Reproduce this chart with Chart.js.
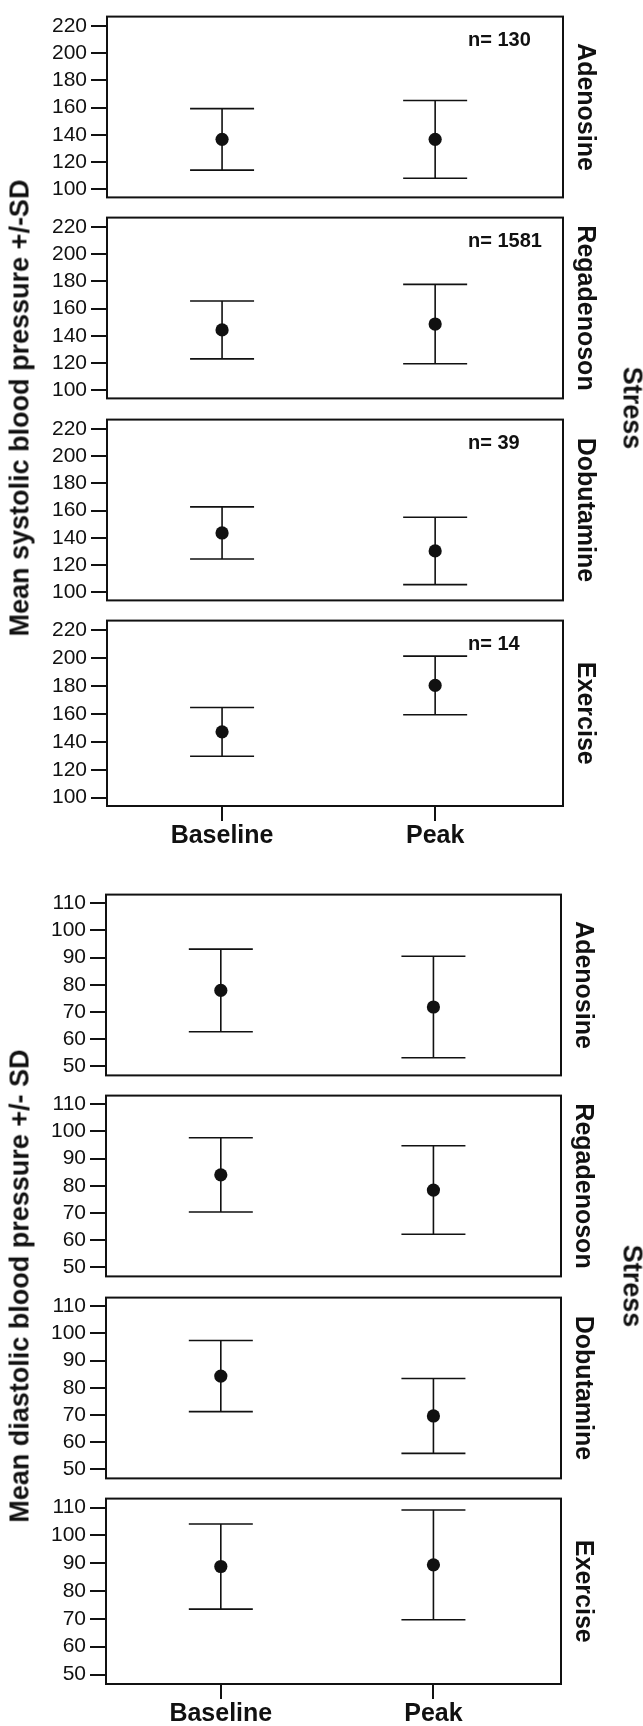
<!DOCTYPE html>
<html>
<head>
<meta charset="utf-8">
<title>Blood pressure at baseline and peak stress</title>
<script src="https://cdn.jsdelivr.net/npm/chart.js@4.4.1/dist/chart.umd.min.js"></script>
<style>
  html, body { margin: 0; padding: 0; background: #fff; }
  body { position: relative; width: 643px; height: 1726px; overflow: hidden;
         font-family: 'Liberation Sans', Arial, sans-serif; color: #111; }
  .panel { position: absolute; left: 0; width: 643px; }
  .vtitle { position: absolute; white-space: nowrap; font-weight: bold; font-size: 27px; line-height: 1; }
</style>
</head>
<body>
<script>
const categories = ['Baseline', 'Peak'];
const stressTypes = ['Adenosine', 'Regadenoson', 'Dobutamine', 'Exercise'];
const sampleSizes = [130, 1581, 39, 14];

// mean and SD per stress type, [baseline, peak]
const systolicMean = [[136.7, 136.7], [144.4, 148.7], [143.6, 130.4], [147.2, 180.5]];
const systolicSD = [[22.6, 28.6], [21.3, 29.2], [19.2, 24.8], [17.5, 21.0]];
const diastolicMean = [[77.9, 71.8], [84.0, 78.4], [84.3, 69.6], [88.8, 89.4]];
const diastolicSD = [[15.2, 18.7], [13.7, 16.3], [13.1, 13.8], [15.3, 19.7]];

const systolicTicks = [100, 120, 140, 160, 180, 200, 220];
const diastolicTicks = [50, 60, 70, 80, 90, 100, 110];

const INK = '#111';
const FONT = "'Liberation Sans', Arial, sans-serif";
const PANEL_H = 192, PANEL_STEP = 201.3;
const PAD_TOP = 10, PAD_BOTTOM = 12, AXIS_H = 52, CAP = 32;

Chart.defaults.font.family = FONT;
Chart.defaults.color = INK;

const groups = [
    { title: 'Mean systolic blood pressure +/-SD', means: systolicMean, sds: systolicSD,
      ticks: systolicTicks, yMin: 94, yMax: 227, top: 10, left: 107, right: 563, showN: true },
    { title: 'Mean diastolic blood pressure +/- SD', means: diastolicMean, sds: diastolicSD,
      ticks: diastolicTicks, yMin: 46.6, yMax: 113.2, top: 888, left: 106, right: 561, showN: false }
];

// frame, error bars, facet label and n= text
const panelDecor = {
    id: 'panelDecor',
    beforeDatasetsDraw(chart) {
        const {ctx, scales: {x, y}} = chart;
        const ds = chart.data.datasets[0];
        ctx.save();
        ctx.strokeStyle = INK;
        ctx.lineWidth = 1.6;
        ds.data.forEach((p, i) => {
            const px = x.getPixelForValue(p.x);
            const hi = y.getPixelForValue(p.y + ds.sd[i]);
            const lo = y.getPixelForValue(p.y - ds.sd[i]);
            ctx.beginPath();
            ctx.moveTo(px, hi); ctx.lineTo(px, lo);
            ctx.moveTo(px - CAP, hi); ctx.lineTo(px + CAP, hi);
            ctx.moveTo(px - CAP, lo); ctx.lineTo(px + CAP, lo);
            ctx.stroke();
        });
        ctx.restore();
    },
    afterDraw(chart, args, opts) {
        const {ctx, chartArea: a} = chart;
        ctx.save();
        ctx.strokeStyle = INK;
        ctx.lineWidth = 2;
        ctx.strokeRect(a.left, a.top, a.right - a.left, a.bottom - a.top);
        ctx.fillStyle = INK;
        if (opts.n) {
            ctx.font = 'bold 20px ' + FONT;
            ctx.textAlign = 'left';
            ctx.textBaseline = 'middle';
            ctx.fillText(opts.n, a.right - 95, a.top + 24);
        }
        ctx.font = 'bold 25px ' + FONT;
        ctx.textAlign = 'center';
        ctx.textBaseline = 'middle';
        ctx.translate(a.right + 22, (a.top + a.bottom) / 2);
        ctx.rotate(Math.PI / 2);
        ctx.fillText(opts.label, 0, 0);
        ctx.restore();
    }
};

function addTitle(text, cx, cy, deg) {
    const el = document.createElement('div');
    el.className = 'vtitle';
    el.textContent = text;
    el.style.left = cx + 'px';
    el.style.top = cy + 'px';
    el.style.transform = 'translate(-50%, -50%) rotate(' + deg + 'deg)';
    document.body.appendChild(el);
}

groups.forEach((g) => {
    stressTypes.forEach((type, si) => {
        const isLast = si === stressTypes.length - 1;
        const top = g.top + Math.round(si * PANEL_STEP);
        const div = document.createElement('div');
        div.className = 'panel';
        div.style.top = (top - PAD_TOP) + 'px';
        div.style.height = (PAD_TOP + PANEL_H + (isLast ? AXIS_H : PAD_BOTTOM)) + 'px';
        const canvas = document.createElement('canvas');
        div.appendChild(canvas);
        document.body.appendChild(div);

        new Chart(canvas, {
            type: 'scatter',
            data: {
                datasets: [{
                    data: categories.map((c, i) => ({ x: i, y: g.means[si][i] })),
                    sd: g.sds[si],
                    pointRadius: 6.6,
                    pointHoverRadius: 6.6,
                    backgroundColor: INK,
                    borderWidth: 0
                }]
            },
            options: {
                responsive: true,
                maintainAspectRatio: false,
                animation: false,
                events: [],
                layout: { padding: { top: PAD_TOP, bottom: isLast ? 0 : PAD_BOTTOM, left: 0, right: 643 - g.right } },
                plugins: {
                    legend: { display: false },
                    tooltip: { enabled: false },
                    panelDecor: { label: type, n: g.showN ? 'n= ' + sampleSizes[si] : null }
                },
                scales: {
                    x: {
                        type: 'linear', min: -0.54, max: 1.60, display: isLast,
                        afterBuildTicks: (ax) => { ax.ticks = categories.map((c, i) => ({ value: i })); },
                        afterFit: (ax) => { ax.height = isLast ? AXIS_H : 0; },
                        ticks: { callback: (v) => categories[v], font: { size: 25, weight: 'bold' },
                                 color: INK, padding: 0, maxRotation: 0, autoSkip: false },
                        grid: { drawOnChartArea: false, drawTicks: true, tickLength: 15,
                                lineWidth: 2, tickWidth: 2, tickColor: INK },
                        border: { display: false }
                    },
                    y: {
                        min: g.yMin, max: g.yMax,
                        afterBuildTicks: (ax) => { ax.ticks = g.ticks.map((v) => ({ value: v })); },
                        afterFit: (ax) => { ax.width = g.left; },
                        ticks: { font: { size: 21 }, color: INK, padding: 4, autoSkip: false },
                        grid: { drawOnChartArea: false, drawTicks: true, tickLength: 16,
                                lineWidth: 2, tickWidth: 2, tickColor: INK },
                        border: { display: false }
                    }
                }
            },
            plugins: [panelDecor]
        });
    });

    const mid = (g.top + g.top + Math.round(3 * PANEL_STEP) + PANEL_H) / 2;
    addTitle(g.title, 20, mid, -90);
    addTitle('Stress', 632, mid, 90);
});
</script>
</body>
</html>
